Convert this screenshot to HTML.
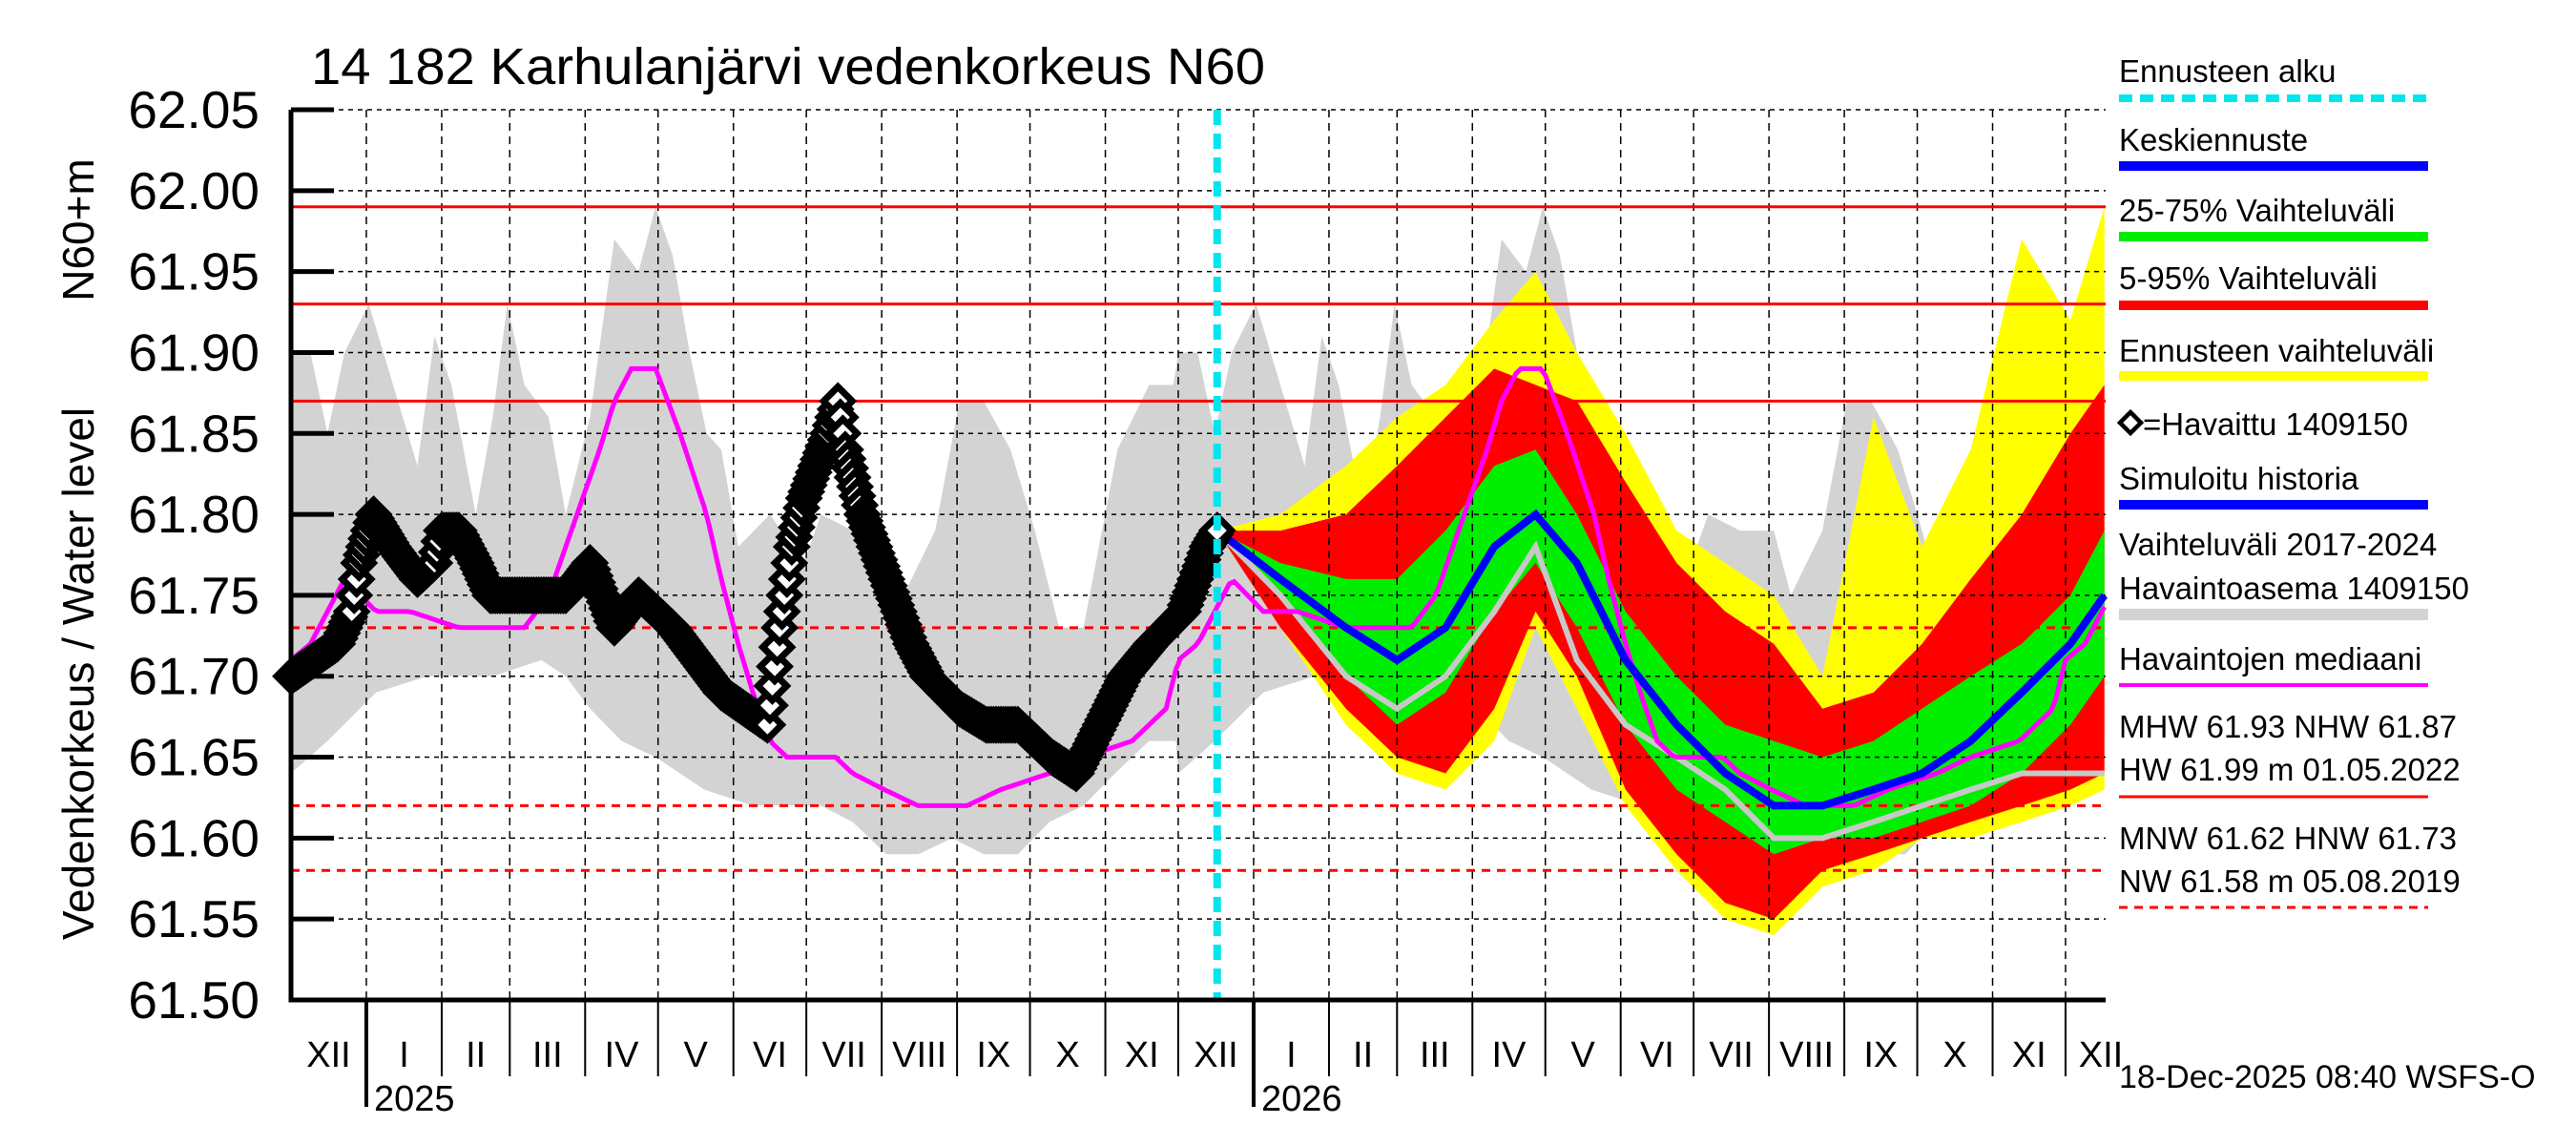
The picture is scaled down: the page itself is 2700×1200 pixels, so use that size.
<!DOCTYPE html>
<html><head><meta charset="utf-8"><style>
html,body{margin:0;padding:0;background:#fff}
svg{display:block}
text{font-family:"Liberation Sans",Arial,sans-serif;fill:#000}
</style></head><body>
<svg id="chart" width="2700" height="1200" viewBox="0 0 2700 1200" xmlns="http://www.w3.org/2000/svg">
<rect width="2700" height="1200" fill="#fff"/>
<g id="bands"></g>
<g id="grid"></g>
<g id="lines"></g>
<g id="axes"></g>
<g id="legend"></g>
</svg>
<script>
// ---- data (day index from 2024-12-01) ----
const obsDays=[0,19,25,28,34,42,52,59,62,69,76,82,113,123,133,143,150,157,167,177,196,201,206,211,221,225,228,235,245,255,262,275,286,299,313,323,333,343,354,367,377,381];
const obsVals=[61.70,61.72,61.74,61.77,61.80,61.78,61.76,61.77,61.79,61.79,61.77,61.75,61.75,61.77,61.73,61.75,61.74,61.73,61.71,61.69,61.67,61.73,61.78,61.81,61.85,61.87,61.84,61.80,61.76,61.72,61.70,61.68,61.67,61.67,61.65,61.64,61.67,61.70,61.72,61.74,61.78,61.79];
const medDays=[0,8,22,35,49,69,96,106,113,127,133,140,150,160,171,177,184,190,197,204,224,231,244,258,278,292,312,326,346,360,365];
const medVals=[61.71,61.72,61.76,61.74,61.74,61.73,61.73,61.75,61.78,61.84,61.87,61.89,61.89,61.85,61.80,61.76,61.72,61.69,61.66,61.65,61.65,61.64,61.63,61.62,61.62,61.63,61.64,61.65,61.66,61.68,61.71];
const grayUpDays=[0,8,15,22,32,42,52,59,66,76,83,89,96,106,113,123,133,143,150,157,164,171,177,184,197,211,218,231,245,252,265,275,285,296,306,316,326,340,353,363,365];
const grayUpVals=[61.90,61.90,61.85,61.90,61.93,61.88,61.83,61.91,61.88,61.80,61.86,61.93,61.88,61.86,61.80,61.86,61.97,61.95,61.99,61.96,61.90,61.85,61.84,61.78,61.80,61.77,61.80,61.79,61.79,61.75,61.79,61.87,61.87,61.84,61.79,61.73,61.73,61.84,61.88,61.88,61.90];
const grayLoDays=[0,15,35,56,83,103,113,123,136,150,170,190,204,218,231,245,258,272,285,299,312,326,339,353,365];
const grayLoVals=[61.64,61.66,61.69,61.70,61.70,61.71,61.70,61.68,61.66,61.65,61.63,61.62,61.62,61.62,61.61,61.59,61.59,61.60,61.59,61.59,61.61,61.62,61.64,61.66,61.66];
const fcDays=[381,407,434,455,475,495,512,529,549,570,590,610,630,651,671,691,712,732,746];
const yelUp=[61.79,61.80,61.83,61.86,61.88,61.92,61.95,61.90,61.85,61.79,61.77,61.75,61.70,61.86,61.78,61.84,61.97,61.92,61.99];
const redUp=[61.79,61.79,61.80,61.83,61.86,61.89,61.88,61.87,61.82,61.77,61.74,61.72,61.68,61.69,61.72,61.76,61.80,61.85,61.88];
const grnUp=[61.79,61.77,61.76,61.76,61.79,61.83,61.84,61.80,61.74,61.70,61.67,61.66,61.65,61.66,61.68,61.70,61.72,61.75,61.79];
const meanVals=[61.79,61.76,61.73,61.71,61.73,61.78,61.80,61.77,61.71,61.67,61.64,61.62,61.62,61.63,61.64,61.66,61.69,61.72,61.75];
const grnLo=[61.79,61.75,61.70,61.67,61.69,61.74,61.77,61.73,61.67,61.63,61.61,61.59,61.60,61.60,61.61,61.62,61.64,61.67,61.70];
const redLo=[61.79,61.73,61.68,61.65,61.64,61.68,61.74,61.70,61.63,61.59,61.56,61.55,61.58,61.59,61.60,61.61,61.62,61.63,61.64];
const yelLo=[61.79,61.73,61.67,61.64,61.63,61.66,61.73,61.68,61.62,61.58,61.55,61.54,61.57,61.58,61.60,61.60,61.61,61.62,61.63];
const grayLine=[61.79,61.75,61.70,61.68,61.70,61.74,61.78,61.71,61.67,61.65,61.63,61.60,61.60,61.61,61.62,61.63,61.64,61.64,61.64];
const yTicks=[61.50,61.55,61.60,61.65,61.70,61.75,61.80,61.85,61.90,61.95,62.00,62.05];
const monthStarts=[0,31,62,90,121,151,182,212,243,274,304,335,365,396,427,455,486,516,547,577,608,639,669,700,730,761];
const monthLabels=["XII","I","II","III","IV","V","VI","VII","VIII","IX","X","XI","XII","I","II","III","IV","V","VI","VII","VIII","IX","X","XI","XII"];
const solidRef=[61.99,61.93,61.87];
const dashRef=[61.73,61.62,61.58];
const forecastDay=381;

const L=305,R=2207,T=115,B=1048,DMAX=746.5;
const X=d=>L+d*(R-L)/DMAX, Y=v=>T+(62.05-v)*(B-T)/0.55;
const NS="http://www.w3.org/2000/svg";
function mk(tag,attrs,parent){const e=document.createElementNS(NS,tag);for(const k in attrs)e.setAttribute(k,attrs[k]);parent.appendChild(e);return e;}
const gB=document.getElementById('bands'),gG=document.getElementById('grid'),gL=document.getElementById('lines'),gA=document.getElementById('axes'),gLeg=document.getElementById('legend');
function interp(ds,vs,d){if(d<=ds[0])return vs[0];for(let i=1;i<ds.length;i++){if(d<=ds[i]){const t=(d-ds[i-1])/(ds[i]-ds[i-1]);return vs[i-1]+t*(vs[i]-vs[i-1]);}}return vs[vs.length-1];}
function cyc(ds,vs,d){return interp(ds,vs,d%365);}
function ptsOf(ds,vs){return ds.map((d,i)=>X(d).toFixed(1)+','+Y(vs[i]).toFixed(1));}

let up=[],lo=[];
for(let d=0;d<=746;d+=1){up.push(X(d).toFixed(1)+','+Y(cyc(grayUpDays,grayUpVals,d)).toFixed(1));lo.unshift(X(d).toFixed(1)+','+Y(cyc(grayLoDays,grayLoVals,d)).toFixed(1));}
let e=mk('polygon',{points:up.concat(lo).join(' '),fill:'#d3d3d3'},gB);


function band(u,l,color,name){const p=ptsOf(fcDays,u).concat(ptsOf(fcDays,l).reverse());const b=mk('polygon',{points:p.join(' '),fill:color},gB);

}
band(yelUp,yelLo,'#ffff00','forecast-range-band');
band(redUp,redLo,'#ff0000','band-5-95');
band(grnUp,grnLo,'#00ee00','band-25-75');

for(const v of yTicks){const l=mk('line',{x1:L,x2:R,y1:Y(v),y2:Y(v),stroke:'#000','stroke-width':1.5,'stroke-dasharray':'5,5'},gG);

}
for(let i=1;i<monthStarts.length-1;i++){const l=mk('line',{x1:X(monthStarts[i]),x2:X(monthStarts[i]),y1:T,y2:B,stroke:'#000','stroke-width':1.5,'stroke-dasharray':'8,6'},gG);

}
for(const v of solidRef){const l=mk('line',{x1:L,x2:R,y1:Y(v),y2:Y(v),stroke:'#ff0000','stroke-width':3},gG);

}
for(const v of dashRef){const l=mk('line',{x1:L,x2:R,y1:Y(v),y2:Y(v),stroke:'#ff0000','stroke-width':3,'stroke-dasharray':'9,7'},gG);

}

let gp=mk('polyline',{points:ptsOf(fcDays,grayLine).join(' '),fill:'none',stroke:'#c8c8c8','stroke-width':6},gL);


let mp=[];for(let d=0;d<=746;d+=2)mp.push(X(d).toFixed(1)+','+Y(cyc(medDays,medVals,d)).toFixed(1));
let med=mk('polyline',{points:mp.join(' '),fill:'none',stroke:'#ff00ff','stroke-width':5},gL);


let mean=mk('polyline',{points:ptsOf(fcDays,meanVals).join(' '),fill:'none',stroke:'#0000ff','stroke-width':8},gL);


let sim=mk('polyline',{points:ptsOf(obsDays,obsVals).join(' '),fill:'none',stroke:'#0000ff','stroke-width':6},gL);


const gObs=mk('g',{},gL);


for(let d=0;d<=381;d+=1){const cx=X(d),cy=Y(interp(obsDays,obsVals,d)),s=15;
const p=mk('polygon',{points:`${cx},${cy-s} ${cx+s},${cy} ${cx},${cy+s} ${cx-s},${cy}`,fill:'#fff',stroke:'#000','stroke-width':7},gObs);

}
let fl=mk('line',{x1:X(forecastDay),x2:X(forecastDay),y1:T,y2:B,stroke:'#00e5ee','stroke-width':8,'stroke-dasharray':'16,9'},gL);



let ax=mk('path',{d:`M${L},${T} L${L},${B} L${R},${B}`,fill:'none',stroke:'#000','stroke-width':5},gA);


for(const v of yTicks){const t=mk('line',{x1:L,x2:L+45,y1:Y(v),y2:Y(v),stroke:'#000','stroke-width':5},gA);


const tx=mk('text',{x:272,y:Y(v)+19,'text-anchor':'end','font-size':55},gA);tx.textContent=v.toFixed(2);

}
for(let i=1;i<monthStarts.length-1;i++){const yr=(monthStarts[i]===31||monthStarts[i]===396);
const t=mk('line',{x1:X(monthStarts[i]),x2:X(monthStarts[i]),y1:B,y2:yr?1160:1128,stroke:'#000','stroke-width':yr?4:2},gA);

}
for(let i=0;i<monthLabels.length;i++){let a=monthStarts[i],b=Math.min(monthStarts[i+1],746);let cx=(X(a)+X(b))/2;if(i===monthLabels.length-1)cx=X(a)+37;
const tx=mk('text',{x:cx,y:1118,'text-anchor':'middle','font-size':38},gA);tx.textContent=monthLabels[i];

}
[['2025',31],['2026',396]].forEach(([s,d])=>{const tx=mk('text',{x:X(d)+8,y:1164,'font-size':38},gA);tx.textContent=s;

});
let title=mk('text',{x:326,y:88,'font-size':54,textLength:1000,lengthAdjust:'spacingAndGlyphs'},gA);title.textContent='14 182 Karhulanjärvi vedenkorkeus N60';


let yt=mk('text',{x:0,y:0,'font-size':46,'text-anchor':'middle',transform:'translate(98,706) rotate(-90)'},gA);yt.textContent='Vedenkorkeus / Water level';


let yu=mk('text',{x:0,y:0,'font-size':46,'text-anchor':'middle',transform:'translate(98,241) rotate(-90)'},gA);yu.textContent='N60+m';


let ts=mk('text',{x:2221,y:1140,'font-size':34},gA);ts.textContent='18-Dec-2025 08:40 WSFS-O';



const LX=2221,LX2=2545;
function ltext(s,y,name){const t=mk('text',{x:LX,y:y+12,'font-size':33},gLeg);t.textContent=s;

}
function lline(y,color,w,dash,name){const a={x1:LX,x2:LX2,y1:y,y2:y,stroke:color,'stroke-width':w};if(dash)a['stroke-dasharray']=dash;const l=mk('line',a,gLeg);

}
ltext('Ennusteen alku',74,'legend-forecast-start');lline(103,'#00e5ee',8,'14,8','legend-forecast-start-swatch');
ltext('Keskiennuste',146,'legend-mean-forecast');lline(174,'#0000ff',10,null,'legend-mean-swatch');
ltext('25-75% Vaihteluväli',220,'legend-25-75');lline(248,'#00ee00',10,null,'legend-25-75-swatch');
ltext('5-95% Vaihteluväli',291,'legend-5-95');lline(320,'#ff0000',10,null,'legend-5-95-swatch');
ltext('Ennusteen vaihteluväli',367,'legend-forecast-range');lline(394,'#ffff00',10,null,'legend-forecast-range-swatch');
let dm=mk('polygon',{points:`2233,432 2244,443 2233,454 2222,443`,fill:'#fff',stroke:'#000','stroke-width':4.5},gLeg);


let ot=mk('text',{x:2246,y:456,'font-size':33},gLeg);ot.textContent='=Havaittu 1409150';


ltext('Simuloitu historia',501,'legend-simulated');lline(529,'#0000ff',10,null,'legend-simulated-swatch');
ltext('Vaihteluväli 2017-2024',570,'legend-variation');
ltext('Havaintoasema 1409150',616,'legend-station');lline(644,'#d3d3d3',12,null,'legend-variation-swatch');
ltext('Havaintojen mediaani',690,'legend-median');lline(718,'#ff00ff',4,null,'legend-median-swatch');
ltext('MHW  61.93 NHW  61.87',761,'legend-mhw');
ltext('HW  61.99 m 01.05.2022',806,'legend-hw');lline(835,'#ff0000',3,null,'legend-hw-swatch');
ltext('MNW  61.62 HNW  61.73',878,'legend-mnw');
ltext('NW  61.58 m 05.08.2019',923,'legend-nw');lline(951,'#ff0000',3,'9,7','legend-nw-swatch');
</script>
</body></html>
